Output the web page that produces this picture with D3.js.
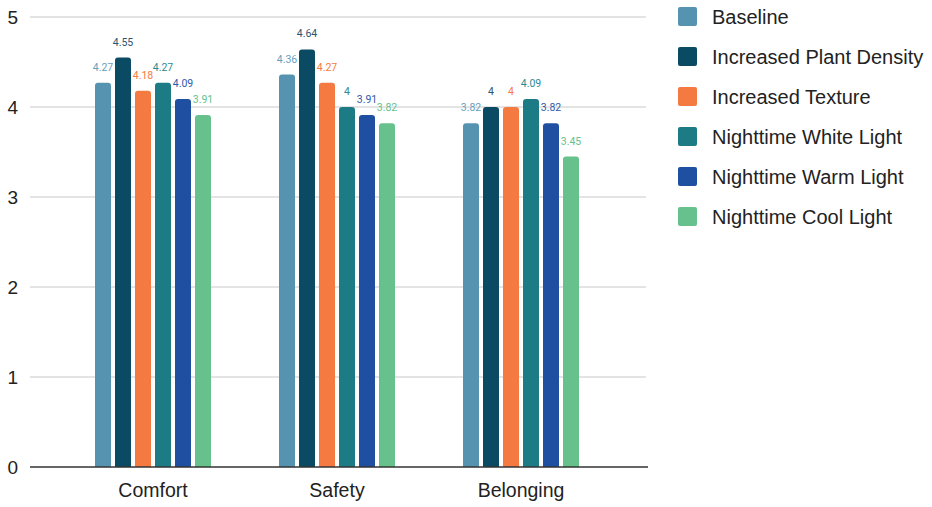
<!DOCTYPE html>
<html>
<head>
<meta charset="utf-8">
<script src="https://cdn.jsdelivr.net/npm/d3@7"></script>
<style>
  html, body { margin: 0; padding: 0; background: #fff; }
  svg { display: block; }
</style>
</head>
<body>
<svg id="chart" width="932" height="507"></svg>
<script>
// Categories and series
const categories = ["Comfort", "Safety", "Belonging"];
const seriesNames = [
  "Baseline",
  "Increased Plant Density",
  "Increased Texture",
  "Nighttime White Light",
  "Nighttime Warm Light",
  "Nighttime Cool Light"
];
const baseline      = [4.27, 4.36, 3.82];
const plantDensity  = [4.55, 4.64, 4.00];
const texture       = [4.18, 4.27, 4.00];
const whiteLight    = [4.27, 4.00, 4.09];
const warmLight     = [4.09, 3.91, 3.82];
const coolLight     = [3.91, 3.82, 3.45];
const seriesValues = [baseline, plantDensity, texture, whiteLight, warmLight, coolLight];
const yTicks = [0, 1, 2, 3, 4, 5];

const colors = ["#5593b0", "#0b4a63", "#f47a42", "#1d7b85", "#1f4fa0", "#66c18c"];
const labelColors = ["#6aa0bb", "#2c5370", "#f47a42", "#2f8a93", "#2f58a8", "#66c18c"];

const svg = d3.select("#chart");
const axisFont = "'Liberation Sans', Arial, sans-serif";

const y = d3.scaleLinear().domain([0, 5]).range([467, 17]);
const x0 = d3.scaleBand().domain(categories).range([61, 613]);
const x1 = d3.scaleBand().domain(seriesNames).range([0, 116]).paddingInner(0.2);

// Gridlines
svg.append("g").selectAll("line")
  .data(yTicks.filter(d => d > 0))
  .join("line")
  .attr("x1", 30).attr("x2", 646)
  .attr("y1", d => y(d)).attr("y2", d => y(d))
  .attr("stroke", "#c8c8c8").attr("stroke-width", 1);

// Y tick labels
svg.append("g").selectAll("text")
  .data(yTicks)
  .join("text")
  .attr("x", 18).attr("y", d => y(d))
  .attr("dy", "0.35em")
  .attr("text-anchor", "end")
  .attr("font-family", axisFont)
  .attr("font-size", 19)
  .attr("fill", "#222")
  .text(d => d);

// Rounded-top bar path
function topRounded(x, yTop, w, h, r) {
  r = Math.min(r, h, w / 2);
  return `M${x},${yTop + h}V${yTop + r}Q${x},${yTop} ${x + r},${yTop}H${x + w - r}Q${x + w},${yTop} ${x + w},${yTop + r}V${yTop + h}Z`;
}

const groups = svg.append("g").selectAll("g")
  .data(categories)
  .join("g")
  .attr("transform", d => `translate(${x0(d) + (x0.bandwidth() - 116) / 2},0)`);

groups.each(function(cat, ci) {
  const g = d3.select(this);
  const items = seriesNames.map((s, si) => ({ s, si, v: seriesValues[si][ci] }));
  g.selectAll("path")
    .data(items)
    .join("path")
    .attr("d", d => topRounded(x1(d.s), y(d.v), x1.bandwidth(), y(0) - y(d.v), 3))
    .attr("fill", d => colors[d.si]);
  g.selectAll("text")
    .data(items)
    .join("text")
    .attr("x", d => x1(d.s) + x1.bandwidth() / 2)
    .attr("y", d => y(d.v) - 12)
    .attr("text-anchor", "middle")
    .attr("font-family", "Roboto, sans-serif")
    .attr("font-size", 10.5)
    .attr("fill", d => labelColors[d.si])
    .text(d => d3.format("~g")(d.v));
});

// Baseline axis
svg.append("line")
  .attr("x1", 30).attr("x2", 648)
  .attr("y1", y(0)).attr("y2", y(0))
  .attr("stroke", "#333").attr("stroke-width", 1.6);

// Category labels
svg.append("g").selectAll("text")
  .data(categories)
  .join("text")
  .attr("x", d => x0(d) + x0.bandwidth() / 2)
  .attr("y", 497)
  .attr("text-anchor", "middle")
  .attr("font-family", axisFont)
  .attr("font-size", 19.5)
  .attr("fill", "#222")
  .text(d => d);

// Legend
const legend = svg.append("g").selectAll("g")
  .data(seriesNames)
  .join("g")
  .attr("transform", (d, i) => `translate(678,${7 + i * 40})`);
legend.append("rect")
  .attr("width", 19).attr("height", 19).attr("rx", 2)
  .attr("fill", (d, i) => colors[i]);
legend.append("text")
  .attr("x", 34).attr("y", 10)
  .attr("dy", "0.35em")
  .attr("font-family", axisFont)
  .attr("font-size", 20)
  .attr("fill", "#222")
  .text(d => d);
</script>
</body>
</html>
